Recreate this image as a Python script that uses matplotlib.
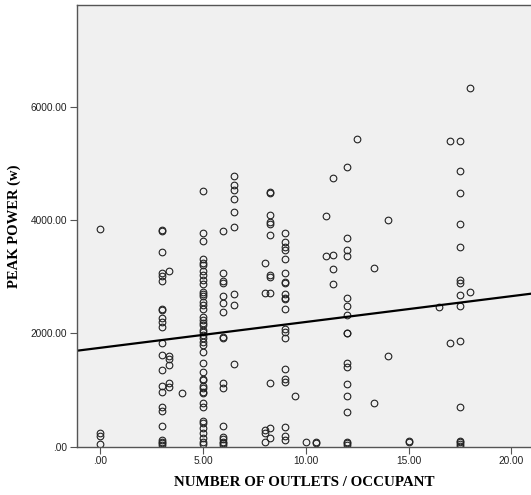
import matplotlib
matplotlib.use('Agg')
import matplotlib.pyplot as plt

# outlets per occupant -> list of peak power values (w)
x_groups = [0, 3, 3.33, 4, 5, 6, 6.5, 8, 8.25, 9, 9.5, 10, 10.5, 11, 11.33,
            12, 12.5, 13.33, 14, 15, 16.5, 17, 17.5, 18]
y_groups = [
    [3835, 250, 190, 40],
    [3820, 3810, 3440, 3060, 3020, 2920, 2430, 2410, 2265, 2205, 2120, 1825,
     1620, 1350, 1075, 970, 705, 630, 365, 120, 80, 60, 30],
    [3100, 1600, 1550, 1450, 1130, 1050],
    [940],
    [4520, 3775, 3635, 3310, 3250, 3205, 3105, 3030, 2940, 2880, 2735, 2695,
     2660, 2560, 2500, 2425, 2295, 2235, 2190, 2150, 2060, 2020, 1970, 1910,
     1855, 1795, 1665, 1470, 1325, 1195, 1175, 1075, 1030, 970, 940, 765, 705,
     460, 410, 325, 245, 145, 90, 45],
    [3805, 3060, 2920, 2895, 2665, 2530, 2380, 1940, 1925, 1120, 1030, 365,
     175, 130, 90, 60, 30],
    [4780, 4620, 4530, 4365, 4145, 3870, 2690, 2500, 1460],
    [3245, 2720, 295, 235, 75],
    [4500, 4470, 4090, 3970, 3925, 3735, 3030, 2990, 2720, 1120, 325, 145],
    [3765, 3620, 3530, 3480, 3305, 3070, 2910, 2895, 2695, 2620, 2600, 2425,
     2070, 2030, 1910, 1365, 1200, 1145, 355, 195, 120],
    [895],
    [75],
    [90, 70],
    [4070, 3365],
    [4735, 3380, 3145, 2880],
    [4930, 3690, 3480, 3365, 2620, 2480, 2325, 2010, 2000, 1480, 1410, 1105,
     895, 605, 90, 60, 30],
    [5425],
    [3160, 765],
    [4000, 1600],
    [100, 90],
    [2470],
    [5395, 1835],
    [5395, 4860, 4480, 3930, 3520, 2940, 2895, 2675, 2480, 1870, 705, 105, 75,
     45, 20],
    [6335, 2725],
]

# fitted line
fit_intercept = 1745
fit_slope = 45.6

x_ticks = [0, 5, 10, 15, 20]
x_labels = ['.00', '5.00', '10.00', '15.00', '20.00']
y_ticks = [0, 2000, 4000, 6000]
y_labels = ['.00', '2000.00', '4000.00', '6000.00']

xs = []
ys = []
for xv, yl in zip(x_groups, y_groups):
    for yv in yl:
        xs.append(xv)
        ys.append(yv)

fig = plt.figure(figsize=(5.31, 4.95), dpi=100)
ax = fig.add_axes([0.145, 0.0976, 0.855, 0.8916])
ax.set_facecolor('#f0f0f0')

ax.plot(xs, ys, 'o', markersize=4.8, markerfacecolor='none',
        markeredgecolor='#222222', markeredgewidth=0.8, linestyle='none')

ax.set_xlim(-1.12, 20.95)
ax.set_ylim(0, 7790)
ax.axline((0, fit_intercept), slope=fit_slope, color='black', linewidth=1.6)

ax.set_xticks(x_ticks)
ax.set_xticklabels(x_labels)
ax.set_yticks(y_ticks)
ax.set_yticklabels(y_labels)
for lab in ax.get_xticklabels() + ax.get_yticklabels():
    lab.set_fontfamily('Liberation Sans')
    lab.set_fontsize(7.3)
    lab.set_color('#222222')
ax.tick_params(direction='out', length=5, width=0.8, color='#555555', pad=2)

for s in ['left', 'bottom', 'top']:
    ax.spines[s].set_color('#555555')
    ax.spines[s].set_linewidth(1.0)
ax.spines['right'].set_visible(False)

ax.set_xlabel('NUMBER OF OUTLETS / OCCUPANT', fontfamily='Liberation Serif',
              fontweight='bold', fontsize=10.8, labelpad=7)
ax.set_ylabel('PEAK POWER (w)', fontfamily='Liberation Serif',
              fontweight='bold', fontsize=10.5, labelpad=7)

fig.savefig('out.png', dpi=100, facecolor='white')
